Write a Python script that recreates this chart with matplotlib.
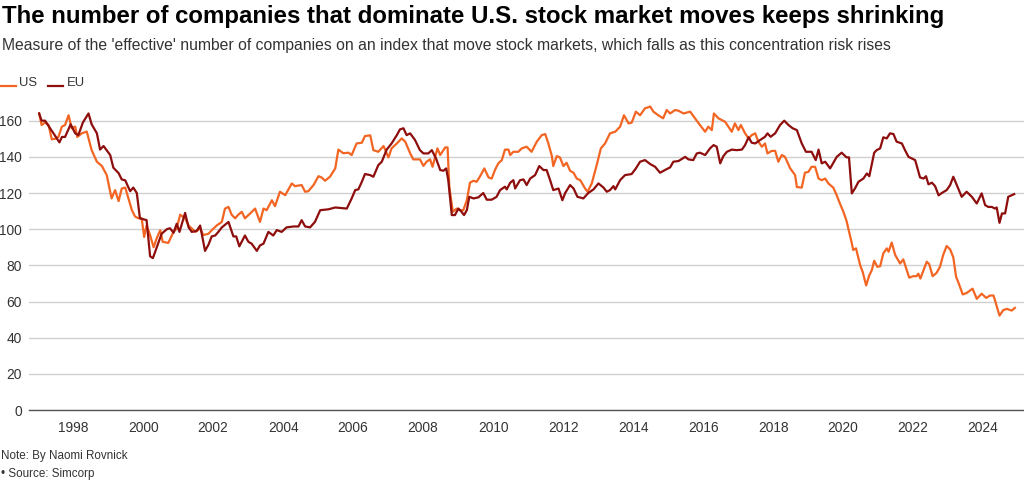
import matplotlib
matplotlib.use("Agg")
import matplotlib.pyplot as plt
from matplotlib.lines import Line2D

plt.rcParams['font.family'] = ['Liberation Sans', 'DejaVu Sans']

# ---- data (decimal year, value) ----
us_x = [1997.03, 1997.10, 1997.20, 1997.30, 1997.39, 1997.49, 1997.58, 1997.68, 1997.77, 1997.87,
        1997.96, 1998.06, 1998.12, 1998.25, 1998.39, 1998.53, 1998.68, 1998.82, 1998.96, 1999.10,
        1999.20, 1999.30, 1999.39, 1999.49, 1999.58, 1999.68, 1999.77, 1999.87, 1999.96, 2000.03,
        2000.10, 2000.20, 2000.30, 2000.39, 2000.49, 2000.56, 2000.72, 2000.87, 2000.96, 2001.06,
        2001.20, 2001.30, 2001.39, 2001.49, 2001.63, 2001.72, 2001.87, 2001.96, 2002.10, 2002.25,
        2002.34, 2002.44, 2002.53, 2002.63, 2002.72, 2002.82, 2002.91, 2003.06, 2003.20, 2003.34,
        2003.44, 2003.53, 2003.68, 2003.77, 2003.91, 2004.06, 2004.25, 2004.34, 2004.53, 2004.63,
        2004.72, 2004.87, 2005.01, 2005.10, 2005.20, 2005.34, 2005.49, 2005.58, 2005.72, 2005.87,
        2005.96, 2006.10, 2006.25, 2006.34, 2006.49, 2006.58, 2006.72, 2006.87, 2007.01, 2007.10,
        2007.25, 2007.39, 2007.49, 2007.63, 2007.72, 2007.91, 2008.01, 2008.10, 2008.20, 2008.27,
        2008.41, 2008.49, 2008.63, 2008.70, 2008.75, 2008.85, 2008.96, 2009.06, 2009.15, 2009.25,
        2009.34, 2009.44, 2009.53, 2009.63, 2009.75, 2009.87, 2009.96, 2010.06, 2010.15, 2010.25,
        2010.34, 2010.44, 2010.49, 2010.58, 2010.72, 2010.82, 2010.96, 2011.10, 2011.25, 2011.39,
        2011.49, 2011.58, 2011.68, 2011.72, 2011.82, 2011.91, 2012.01, 2012.10, 2012.20, 2012.30,
        2012.39, 2012.49, 2012.63, 2012.70, 2012.82, 2012.96, 2013.08, 2013.20, 2013.34, 2013.49,
        2013.63, 2013.74, 2013.87, 2013.96, 2014.08, 2014.20, 2014.34, 2014.49, 2014.58, 2014.72,
        2014.86, 2014.96, 2015.06, 2015.20, 2015.30, 2015.44, 2015.63, 2015.77, 2015.91, 2016.06,
        2016.15, 2016.25, 2016.31, 2016.44, 2016.63, 2016.82, 2016.91, 2017.01, 2017.08, 2017.20,
        2017.30, 2017.39, 2017.49, 2017.58, 2017.68, 2017.77, 2017.84, 2017.96, 2018.06, 2018.15,
        2018.25, 2018.34, 2018.49, 2018.63, 2018.68, 2018.82, 2018.91, 2019.01, 2019.10, 2019.20,
        2019.30, 2019.39, 2019.49, 2019.58, 2019.72, 2019.82, 2019.91, 2020.01, 2020.10, 2020.25,
        2020.29, 2020.37, 2020.49, 2020.56, 2020.66, 2020.75, 2020.82, 2020.89, 2020.98, 2021.06,
        2021.15, 2021.25, 2021.30, 2021.39, 2021.49, 2021.63, 2021.72, 2021.89, 2022.00, 2022.10,
        2022.15, 2022.21, 2022.39, 2022.46, 2022.56, 2022.67, 2022.77, 2022.86, 2022.96, 2023.06,
        2023.15, 2023.23, 2023.29, 2023.42, 2023.53, 2023.70, 2023.82, 2023.96, 2024.09, 2024.20,
        2024.30, 2024.47, 2024.58, 2024.68, 2024.82, 2024.91]
us_y = [164, 157.6, 159, 157.6, 149.7, 150, 151, 156.7, 157.6, 163,
        155.8, 156.7, 151, 153, 154, 143.7, 137.3, 135, 130, 117,
        121.6, 115.5, 122.5, 123, 117, 110.5, 107, 106, 106, 95.7,
        102, 96.7, 90, 95, 99.4, 93, 92.4, 98.5, 100.4, 108,
        106, 102, 100.4, 98.5, 100.4, 96.7, 97.5, 99.4, 102, 104,
        111.4, 112.3, 108, 106, 108, 109.6, 106, 108.7, 111.4, 104,
        111.4, 110.5, 116, 112.7, 120.7, 118.8, 125.3, 123.8, 124.4, 120.7,
        121, 124.4, 129.3, 128.6, 126.8, 129, 133.6, 144, 142, 142.3,
        141, 147.4, 147.8, 151.5, 151.9, 143.7, 142.8, 146, 139.7, 144.7,
        147.4, 150.2, 148.4, 142, 138.6, 138.6, 135, 137.3, 138.6, 134.5,
        144.7, 141, 145.2, 145.2, 123.3, 109.6, 111.4, 110.5, 110.5, 116,
        125.7, 126.8, 126.2, 129.3, 133.6, 128.6, 128, 133, 136.4, 138.2,
        144, 144, 141, 142.8, 142.8, 144.7, 145.6, 142.8, 148.4, 152,
        152.6, 147.4, 140.4, 134.9, 140.4, 139.7, 134.9, 136.7, 132.3, 131.2,
        128, 127.1, 122.5, 120.7, 125.3, 135.4, 144.7, 147.4, 153, 153.9,
        156.7, 163, 158.5, 158.9, 165, 163, 166.8, 167.8, 165, 163,
        161.3, 165.9, 164, 165.9, 165.5, 164, 165, 161.3, 157.6, 153.9,
        156.7, 154.8, 164, 161.3, 159.4, 153.9, 158.5, 154.8, 157.6, 153,
        150.2, 152, 153, 148.4, 145.6, 147.4, 141.9, 143.3, 143.3, 137.3,
        141, 140, 133.6, 129.9, 123.3, 123, 131.2, 131.7, 134.5, 134.5,
        128, 127.1, 128, 125.3, 123, 118.7, 114.2, 109.6, 104.5, 92.2,
        88.5, 89.4, 80, 76.4, 68.9, 74.5, 77.3, 82.5, 79.2, 79.5,
        86.6, 89.4, 87.5, 92.6, 85.7, 81, 83.3, 73.2, 74, 74,
        75.4, 72.7, 82, 80.7, 74, 75.8, 79.2, 85.7, 90.7, 88.8,
        84.4, 73.6, 70.8, 63.9, 64.7, 67.1, 61.5, 64.3, 62, 63.3,
        63.3, 52.2, 55.3, 55.9, 55, 56.5]

eu_x = [1997.03, 1997.10, 1997.20, 1997.30, 1997.44, 1997.61, 1997.68, 1997.77, 1997.93, 1998.06,
        1998.15, 1998.28, 1998.44, 1998.53, 1998.68, 1998.77, 1998.87, 1999.06, 1999.15, 1999.30,
        1999.39, 1999.49, 1999.63, 1999.72, 1999.82, 1999.91, 2000.10, 2000.20, 2000.28, 2000.39,
        2000.53, 2000.68, 2000.77, 2000.87, 2000.96, 2001.04, 2001.20, 2001.30, 2001.39, 2001.53,
        2001.63, 2001.77, 2001.87, 2001.96, 2002.06, 2002.15, 2002.25, 2002.44, 2002.58, 2002.66,
        2002.75, 2002.91, 2003.01, 2003.10, 2003.25, 2003.34, 2003.44, 2003.58, 2003.72, 2003.82,
        2003.96, 2004.10, 2004.30, 2004.44, 2004.53, 2004.63, 2004.77, 2004.91, 2005.06, 2005.30,
        2005.49, 2005.82, 2005.96, 2006.06, 2006.15, 2006.25, 2006.34, 2006.49, 2006.58, 2006.72,
        2006.82, 2006.96, 2007.10, 2007.25, 2007.34, 2007.44, 2007.53, 2007.63, 2007.77, 2007.91,
        2008.01, 2008.15, 2008.25, 2008.37, 2008.49, 2008.58, 2008.66, 2008.72, 2008.82, 2008.91,
        2009.01, 2009.10, 2009.17, 2009.25, 2009.32, 2009.44, 2009.58, 2009.72, 2009.82, 2009.96,
        2010.10, 2010.20, 2010.34, 2010.39, 2010.49, 2010.58, 2010.63, 2010.77, 2010.87, 2010.96,
        2011.06, 2011.20, 2011.32, 2011.44, 2011.53, 2011.63, 2011.72, 2011.87, 2011.98, 2012.06,
        2012.20, 2012.30, 2012.41, 2012.58, 2012.72, 2012.87, 2013.01, 2013.15, 2013.25, 2013.34,
        2013.44, 2013.49, 2013.63, 2013.77, 2013.96, 2014.08, 2014.20, 2014.34, 2014.49, 2014.63,
        2014.77, 2014.91, 2015.06, 2015.15, 2015.30, 2015.49, 2015.58, 2015.72, 2015.82, 2015.91,
        2016.06, 2016.20, 2016.30, 2016.39, 2016.49, 2016.58, 2016.68, 2016.82, 2016.96, 2017.11,
        2017.20, 2017.30, 2017.39, 2017.49, 2017.63, 2017.77, 2017.84, 2017.93, 2018.06, 2018.20,
        2018.32, 2018.44, 2018.56, 2018.68, 2018.82, 2018.94, 2019.10, 2019.22, 2019.30, 2019.39,
        2019.49, 2019.63, 2019.82, 2019.96, 2020.10, 2020.17, 2020.25, 2020.34, 2020.44, 2020.58,
        2020.68, 2020.75, 2020.89, 2020.96, 2021.06, 2021.15, 2021.25, 2021.34, 2021.44, 2021.53,
        2021.68, 2021.77, 2021.87, 2022.06, 2022.20, 2022.30, 2022.37, 2022.44, 2022.54, 2022.63,
        2022.73, 2022.82, 2022.96, 2023.06, 2023.15, 2023.25, 2023.39, 2023.53, 2023.68, 2023.82,
        2023.96, 2024.06, 2024.15, 2024.25, 2024.34, 2024.39, 2024.47, 2024.54, 2024.63, 2024.72,
        2024.82, 2024.89]
eu_y = [164, 160, 160, 157, 153, 148, 151, 151, 158, 153,
        152, 159, 164, 158, 153, 144, 146, 141, 134, 131,
        127.5, 127, 121, 123, 120, 106, 105, 85, 84, 90,
        97.5, 100, 100.5, 98, 103, 98.5, 109, 101, 98.5, 99,
        102, 88, 91.5, 96, 96.5, 98.5, 101, 104, 96, 96,
        90.5, 96.5, 93, 92, 88, 91, 92, 98.5, 96.5, 99.5,
        98.5, 101, 101.5, 101.5, 105, 101.5, 101, 104, 110.5, 111,
        112, 111.4, 117, 121.6, 122, 126.2, 130.5, 129.9, 129, 135.4,
        137.3, 144, 147.4, 152, 155.2, 155.8, 152, 153, 149.3, 143.7,
        141.9, 141.9, 143.7, 139.1, 132.7, 132.3, 133.6, 127.1, 107.8, 107.8,
        111.4, 109.6, 107.8, 110.5, 117.9, 117, 117.6, 120, 116.3, 116.3,
        117.9, 121.6, 123.5, 122, 125.7, 127.1, 122.5, 127.1, 127.5, 124.4,
        128, 129.9, 134.9, 132.7, 132.7, 127.1, 121.6, 122.5, 116, 120,
        124.4, 122.5, 117.9, 117, 120, 122, 125.3, 123.1, 120.7, 121.6,
        123.8, 122, 127.1, 129.9, 130.5, 133.6, 137.3, 138.2, 136, 134.5,
        131.2, 132.7, 134.2, 137.3, 137.7, 140, 138.6, 138.2, 141.9, 142.3,
        141, 144.7, 146.5, 145.6, 136.4, 140.4, 142.8, 144, 143.7, 144,
        146.5, 150.8, 147.8, 147.4, 149.3, 151.1, 153, 151.1, 153, 157.6,
        160, 157.6, 155.8, 154.8, 147.4, 142.8, 142.8, 138.2, 144, 136.4,
        137.3, 133.6, 140, 142.3, 139.7, 139.7, 119.8, 122.5, 126.2, 128,
        130.8, 129.3, 142.3, 143.7, 144.7, 150.8, 150.2, 153, 152.6, 148.4,
        147.4, 143.7, 140, 138.2, 128.6, 128, 129.3, 124.8, 125.7, 123.8,
        118.7, 120, 121.6, 124.4, 129, 124.4, 117.9, 120.7, 117.9, 114.2,
        119.8, 113.3, 112.3, 112.3, 111.4, 112, 103.5, 108.7, 108.7, 117.9,
        118.8, 119.4]

x_ticks = [1998, 2000, 2002, 2004, 2006, 2008, 2010, 2012, 2014, 2016, 2018, 2020, 2022, 2024]
x_labels = [str(t) for t in x_ticks]
y_ticks = [0, 20, 40, 60, 80, 100, 120, 140, 160]

US_COLOR = '#F26522'
EU_COLOR = '#8E0E0E'
TXT = '#333333'

W, H = 1024, 483
fig = plt.figure(figsize=(W / 100, H / 100), dpi=100)

ax = fig.add_axes([29 / W, 1 - 410 / H, 1 - 29 / W, (410 - 102.6) / H])
ax.plot(us_x, us_y, color=US_COLOR, lw=1.6, solid_joinstyle='round', zorder=3)
ax.plot(eu_x, eu_y, color=EU_COLOR, lw=1.6, solid_joinstyle='round', zorder=4)

ax.set_xlim(1996.74, 2025.17)
ax.set_ylim(0, 170)
ax.set_xticks(x_ticks)
ax.set_xticklabels(x_labels)
ax.set_yticks(y_ticks)
ax.tick_params(axis='both', length=0, labelsize=9.9, labelcolor=TXT)
ax.tick_params(axis='x', pad=8)
ax.tick_params(axis='y', pad=5)
ax.grid(axis='y', color='#d0d0d0', lw=1.0, zorder=0)
for s in ['top', 'right', 'left']:
    ax.spines[s].set_visible(False)
ax.spines['bottom'].set_color('#555555')
ax.spines['bottom'].set_linewidth(1.0)
ax.spines['bottom'].set_zorder(5)

# title / subtitle
fig.text(2 / W, 1 - 16 / H, 'The number of companies that dominate U.S. stock market moves keeps shrinking',
         fontsize=17.3, fontweight='bold', color='#000000', va='center', ha='left')
fig.text(2 / W, 1 - 45.5 / H,
         "Measure of the 'effective' number of companies on an index that move stock markets, which falls as this concentration risk rises",
         fontsize=11.3, color=TXT, va='center', ha='left')

# legend
ly = 1 - 86 / H
fig.add_artist(Line2D([0 / W, 15.5 / W], [ly, ly], color=US_COLOR, lw=1.6))
fig.text(19 / W, 1 - 83 / H, 'US', fontsize=9.4, color=TXT, va='center', ha='left')
fig.add_artist(Line2D([47.5 / W, 62.5 / W], [ly, ly], color=EU_COLOR, lw=1.6))
fig.text(67 / W, 1 - 83 / H, 'EU', fontsize=9.4, color=TXT, va='center', ha='left')

# footnotes
fig.text(1 / W, 1 - 456 / H, 'Note: By Naomi Rovnick', fontsize=8.4, color=TXT, va='center', ha='left')
fig.text(1 / W, 1 - 474 / H, '\u2022 Source: Simcorp', fontsize=8.4, color=TXT, va='center', ha='left')

fig.savefig('out.png', dpi=100)
